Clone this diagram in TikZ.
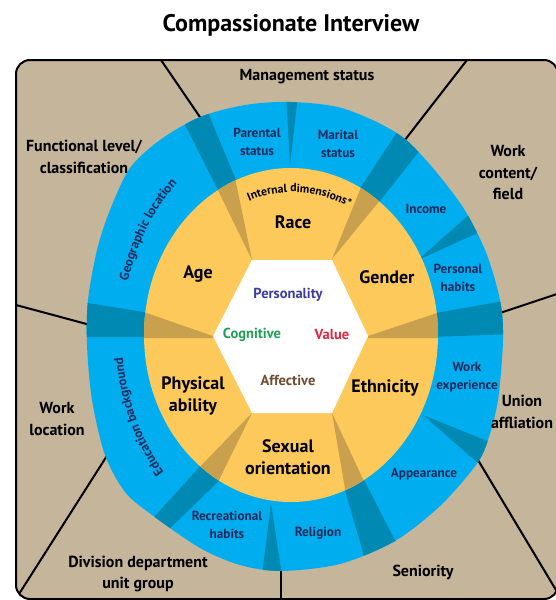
\documentclass[tikz,border=0pt]{standalone}
\usepackage{fontspec}
\setmainfont{PT Sans}
\usetikzlibrary{decorations.text}

\definecolor{tanfill}{HTML}{C4B59B}
\definecolor{ringblue}{HTML}{00AEEF}
\definecolor{bandblue}{HTML}{0089B3}
\definecolor{coreorange}{HTML}{FDC95A}
\definecolor{bandorange}{HTML}{C9A04E}
\definecolor{navytext}{HTML}{1B2A5C}
\definecolor{persblue}{HTML}{3B3D9E}
\definecolor{coggreen}{HTML}{1FA055}
\definecolor{valred}{HTML}{E3243B}
\definecolor{affbrown}{HTML}{6F4C30}

\tikzset{
  titlelabel/.style={font=\bfseries\fontsize{24}{28}\selectfont},
  frame/.style={fill=tanfill, draw=black, line width=2pt, rounded corners=14pt},
  divider/.style={draw=black, line width=2pt},
  tanlabel/.style={font=\bfseries\fontsize{16}{21.5}\selectfont, align=center},
  bluelabel/.style={font=\bfseries\fontsize{13.2}{17.5}\selectfont, align=center, text=navytext},
  orangelabel/.style={font=\bfseries\fontsize{18}{22.5}\selectfont, align=center},
  hexlabel/.style={font=\bfseries\fontsize{14.5}{17}\selectfont},
  curvedlabel/.style={decorate, decoration={text along path, text align=center,
      text color=navytext, text={|\bfseries\fontsize{13}{14}\selectfont|#1}}},
}

\newcommand\ringoutline{plot[smooth cycle] coordinates {(291,102) (345,109) (405,139)
  (458,200) (485,250) (500,300) (503,340) (498,400) (488,440) (476,465) (440,506)
  (395,541) (340,564) (281,571) (240,565) (200,548) (152,515) (125,492) (105,455)
  (92,400) (87,345) (88,300) (97,250) (110,210) (130,168) (160,140) (200,117) (245,105)}}
\newcommand\coreoutline{(291,335) ellipse [x radius=147, y radius=167]}

\begin{document}
\begin{tikzpicture}[x=1pt,y=-1pt]
  \useasboundingbox (0,0) rectangle (556,600);
  \clip (0,0) rectangle (556,600);

  \node[titlelabel] (title) at (291,25) {Compassionate Interview};

  % outer dimensions
  \draw[frame] (16,60) rectangle (558,599);
  \coordinate (mgmtL) at (161,60);   \coordinate (mgmtLin) at (204,123);
  \coordinate (mgmtR) at (467,60);   \coordinate (mgmtRin) at (401,145);
  \coordinate (unionT) at (560,293); \coordinate (unionTin) at (497,314);
  \coordinate (unionB) at (562,600); \coordinate (unionBin) at (475,455);
  \coordinate (senL) at (281,600);   \coordinate (senLin) at (281,565);
  \coordinate (divL) at (19,594);    \coordinate (divLin) at (110,451);
  \coordinate (funcB) at (16,305);   \coordinate (funcBin) at (94,326);
  \foreach \a/\b in {mgmtL/mgmtLin, mgmtR/mgmtRin, unionT/unionTin,
      unionB/unionBin, senL/senLin, divL/divLin, funcB/funcBin}
    \draw[divider] (\a) -- (\b);

  % external dimensions ring
  \fill[ringblue] \ringoutline;
  \begin{scope}
    \clip \ringoutline;
    \fill[bandblue] (225,204) -- (175,105) -- (202,98) -- (241,192) -- cycle;
    \fill[bandblue] (355,196) -- (405,120) -- (428,140) -- (376,206) -- cycle;
    \fill[bandblue] (150,313) -- (75,301) -- (75,337) -- (150,337) -- cycle;
    \fill[bandblue] (430,314) -- (515,299) -- (515,334) -- (430,337) -- cycle;
    \fill[bandblue] (205,461) -- (145,527) -- (160,538) -- (224,476) -- cycle;
    \fill[bandblue] (342,480) -- (367,566) -- (402,554) -- (360,472) -- cycle;
    \fill[bandblue] (290,165) -- (286,95) -- (298,95) -- cycle;
    \fill[bandblue] (418,260) -- (472,212) -- (482,231) -- cycle;
    \fill[bandblue] (423,415) -- (490,442) -- (479,464) -- cycle;
    \fill[bandblue] (271,503) -- (262,575) -- (282,576) -- cycle;
  \end{scope}

  % internal dimensions
  \fill[coreorange] \coreoutline;
  \begin{scope}
    \clip \coreoutline;
    \fill[bandorange] (252,260) -- (211,176) -- (232,163) -- cycle;
    \fill[bandorange] (332,259) -- (368,170) -- (390,188) -- cycle;
    \fill[bandorange] (213,336) -- (135,309) -- (135,338) -- (213,338) -- cycle;
    \fill[bandorange] (368,336) -- (446,310) -- (446,338) -- (368,338) -- cycle;
    \fill[bandorange] (252,413) -- (193,474) -- (214,490) -- cycle;
    \fill[bandorange] (332,413) -- (347,500) -- (369,492) -- cycle;
  \end{scope}

  % personality
  \fill[white] (213,336) -- (252,260) -- (332,260) -- (368,336) -- (332,413) -- (252,413) -- cycle;

  \node[tanlabel] (mgmt) at (307,77) {Management status};
  \node[tanlabel] (func) at (84,157) {Functional level/\\classification};
  \node[tanlabel] (content) at (508,173) {Work\\content/\\field};
  \node[tanlabel] (union) at (522,412) {Union\\affliation};
  \node[tanlabel] (location) at (57,419) {Work\\location};
  \node[tanlabel] (division) at (138,574) {Division department\\unit group};
  \node[tanlabel] (seniority) at (423,572) {Seniority};

  \node[bluelabel] (parental) at (257,142) {Parental\\status};
  \node[bluelabel] (marital) at (338,144) {Marital\\status};
  \node[bluelabel] (income) at (426,209) {Income};
  \node[bluelabel] (habits) at (458,278) {Personal\\habits};
  \node[bluelabel] (experience) at (467,377) {Work\\experience};
  \node[bluelabel] (appearance) at (424,474) {Appearance};
  \node[bluelabel] (religion) at (318,533) {Religion};
  \node[bluelabel] (recreation) at (227,525) {Recreational\\habits};
  \path[curvedlabel={Geographic location}] (292,336) ++(185:170 and 207)
    arc[start angle=185, end angle=239, x radius=170, y radius=207];
  \path[curvedlabel={Education background}] (292,336) ++(128:170 and 207)
    arc[start angle=128, end angle=184, x radius=170, y radius=207];

  \path[decorate, decoration={text along path, text align=center,
      text={|\bfseries\fontsize{11.7}{13}\selectfont|Internal dimensions*}}]
    (293,335) ++(246:124 and 143) arc[start angle=246, end angle=300, x radius=124, y radius=143];
  \node[orangelabel] (race) at (293,222) {Race};
  \node[orangelabel] (age) at (198,274) {Age};
  \node[orangelabel] (gender) at (387,277) {Gender};
  \node[orangelabel] (physical) at (193,396) {Physical\\ability};
  \node[orangelabel] (ethnicity) at (385,388) {Ethnicity};
  \node[orangelabel] (sexual) at (288,457) {Sexual\\orientation};

  \node[hexlabel, text=persblue] (personality) at (288,295) {Personality};
  \node[hexlabel, text=coggreen] (cognitive) at (252,335) {Cognitive};
  \node[hexlabel, text=valred] (value) at (332,335) {Value};
  \node[hexlabel, text=affbrown] (affective) at (288,380) {Affective};
\end{tikzpicture}
\end{document}
